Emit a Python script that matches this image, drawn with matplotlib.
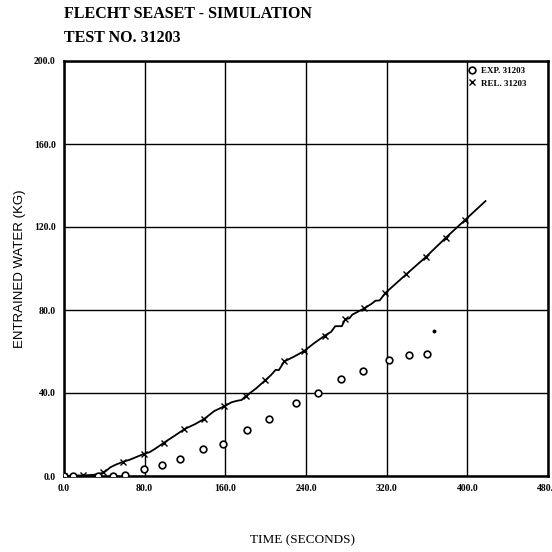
import matplotlib
matplotlib.use('Agg')
import matplotlib.pyplot as plt

# experimental entrainment, test 31203
exp_t = [0, 9, 34, 49, 60, 79, 97.5, 115.5, 138, 158, 181, 203, 230, 252, 274.5, 297, 322, 342, 360]
exp_w = [0, 0, 0, 0, 0.5, 3.2, 5.3, 8.3, 13.0, 15.4, 22.0, 27.3, 35.1, 39.8, 46.6, 50.4, 56.0, 58.4, 58.6]
last_t = [367]
last_w = [70]

# RELAP calculation
rel_t = [0, 10, 20, 30, 37, 41, 46, 52, 59, 65, 70, 79, 85, 90, 99, 110, 119.5, 130, 139, 149,
         159, 166, 172, 176, 180, 190, 199.5, 205, 210, 213, 218.5, 228, 238, 248, 258.8, 265,
         269, 275.5, 279, 283, 286, 290, 298, 305, 309, 313, 318.7, 339.4, 359, 378.8, 398, 418]
rel_w = [0, 0.2, 0.3, 0.6, 1.3, 2.2, 4.2, 5.6, 6.9, 7.8, 8.8, 10.6, 11.5, 13.0, 16.0, 19.5, 22.6, 25.0, 27.5, 31.3,
         33.6, 35.5, 36.3, 36.6, 38.4, 42.0, 46.1, 48.5, 51.2, 51.0, 55.2, 57.5, 60.2, 64.0, 67.7, 69.5,
         72.2, 72.2, 75.6, 76.0, 77.8, 78.8, 80.8, 83.0, 84.5, 84.6, 88.2, 97.2, 105.6, 114.9, 123.5, 132.5]
mark_t = [0, 19, 39, 59, 79, 99, 119.5, 139, 159, 180, 199.5, 218.5, 238, 258.8, 279, 298, 318.7, 339.4, 359, 378.8, 398]
mark_w = [0, 0.3, 2.0, 6.9, 10.6, 16.0, 22.6, 27.5, 33.6, 38.4, 46.1, 55.2, 60.2, 67.7, 75.6, 80.8, 88.2, 97.2, 105.6, 114.9, 123.5]

xticks = [0, 80, 160, 240, 320, 400, 480]
yticks = [0, 40, 80, 120, 160, 200]

serif = 'Liberation Serif'
W = 552.0

fig = plt.figure(figsize=(5.52, 5.52), dpi=100)
ax = fig.add_axes([64/W, 76/W, 484/W, 415/W])

ax.plot(rel_t, rel_w, color='black', lw=1.3, zorder=3)
ax.plot(mark_t, mark_w, ls='none', marker='x', ms=5, mew=1.0, color='black', zorder=4, label='REL. 31203')
ax.plot(exp_t, exp_w, ls='none', marker='o', ms=4.8, mew=1.2, mfc='white', mec='black', zorder=4, label='EXP. 31203')
ax.plot(last_t, last_w, ls='none', marker='o', ms=1.8, color='black', zorder=4)

ax.set_xlim(0, 480)
ax.set_ylim(0, 200)
ax.set_xticks(xticks)
ax.set_yticks(yticks)
ax.set_xticklabels(['%.1f' % v for v in xticks], fontfamily=serif, fontweight='bold', fontsize=7)
ax.set_yticklabels(['%.1f' % v for v in yticks], fontfamily=serif, fontweight='bold', fontsize=7)
ax.tick_params(length=0, pad=6)
ax.grid(True, color='black', lw=1.0)
ax.set_axisbelow(True)
for s in ax.spines.values():
    s.set_linewidth(1.8)

h, l = ax.get_legend_handles_labels()
leg = ax.legend(h[::-1], l[::-1], loc='upper left', bbox_to_anchor=(0.829, 0.99), frameon=False,
                borderaxespad=0, borderpad=0.2, handlelength=1.0, handletextpad=0.6, labelspacing=0.45,
                prop={'family': serif, 'weight': 'bold', 'size': 6.5})

fig.text(64/W, 1 - 14.5/W, 'FLECHT SEASET - SIMULATION', family=serif, weight='bold', fontsize=11.5, va='center')
fig.text(64/W, 1 - 37.5/W, 'TEST NO. 31203', family=serif, weight='bold', fontsize=11.5, va='center')
fig.text(20/W, 1 - 268.5/W, 'ENTRAINED WATER (KG)', family='Liberation Sans', fontsize=9.5,
         rotation=90, ha='center', va='center')
fig.text(303/W, 1 - 540/W, 'TIME (SECONDS)', family=serif, fontsize=9.5, ha='center', va='center')

fig.savefig('out.png', dpi=100)
